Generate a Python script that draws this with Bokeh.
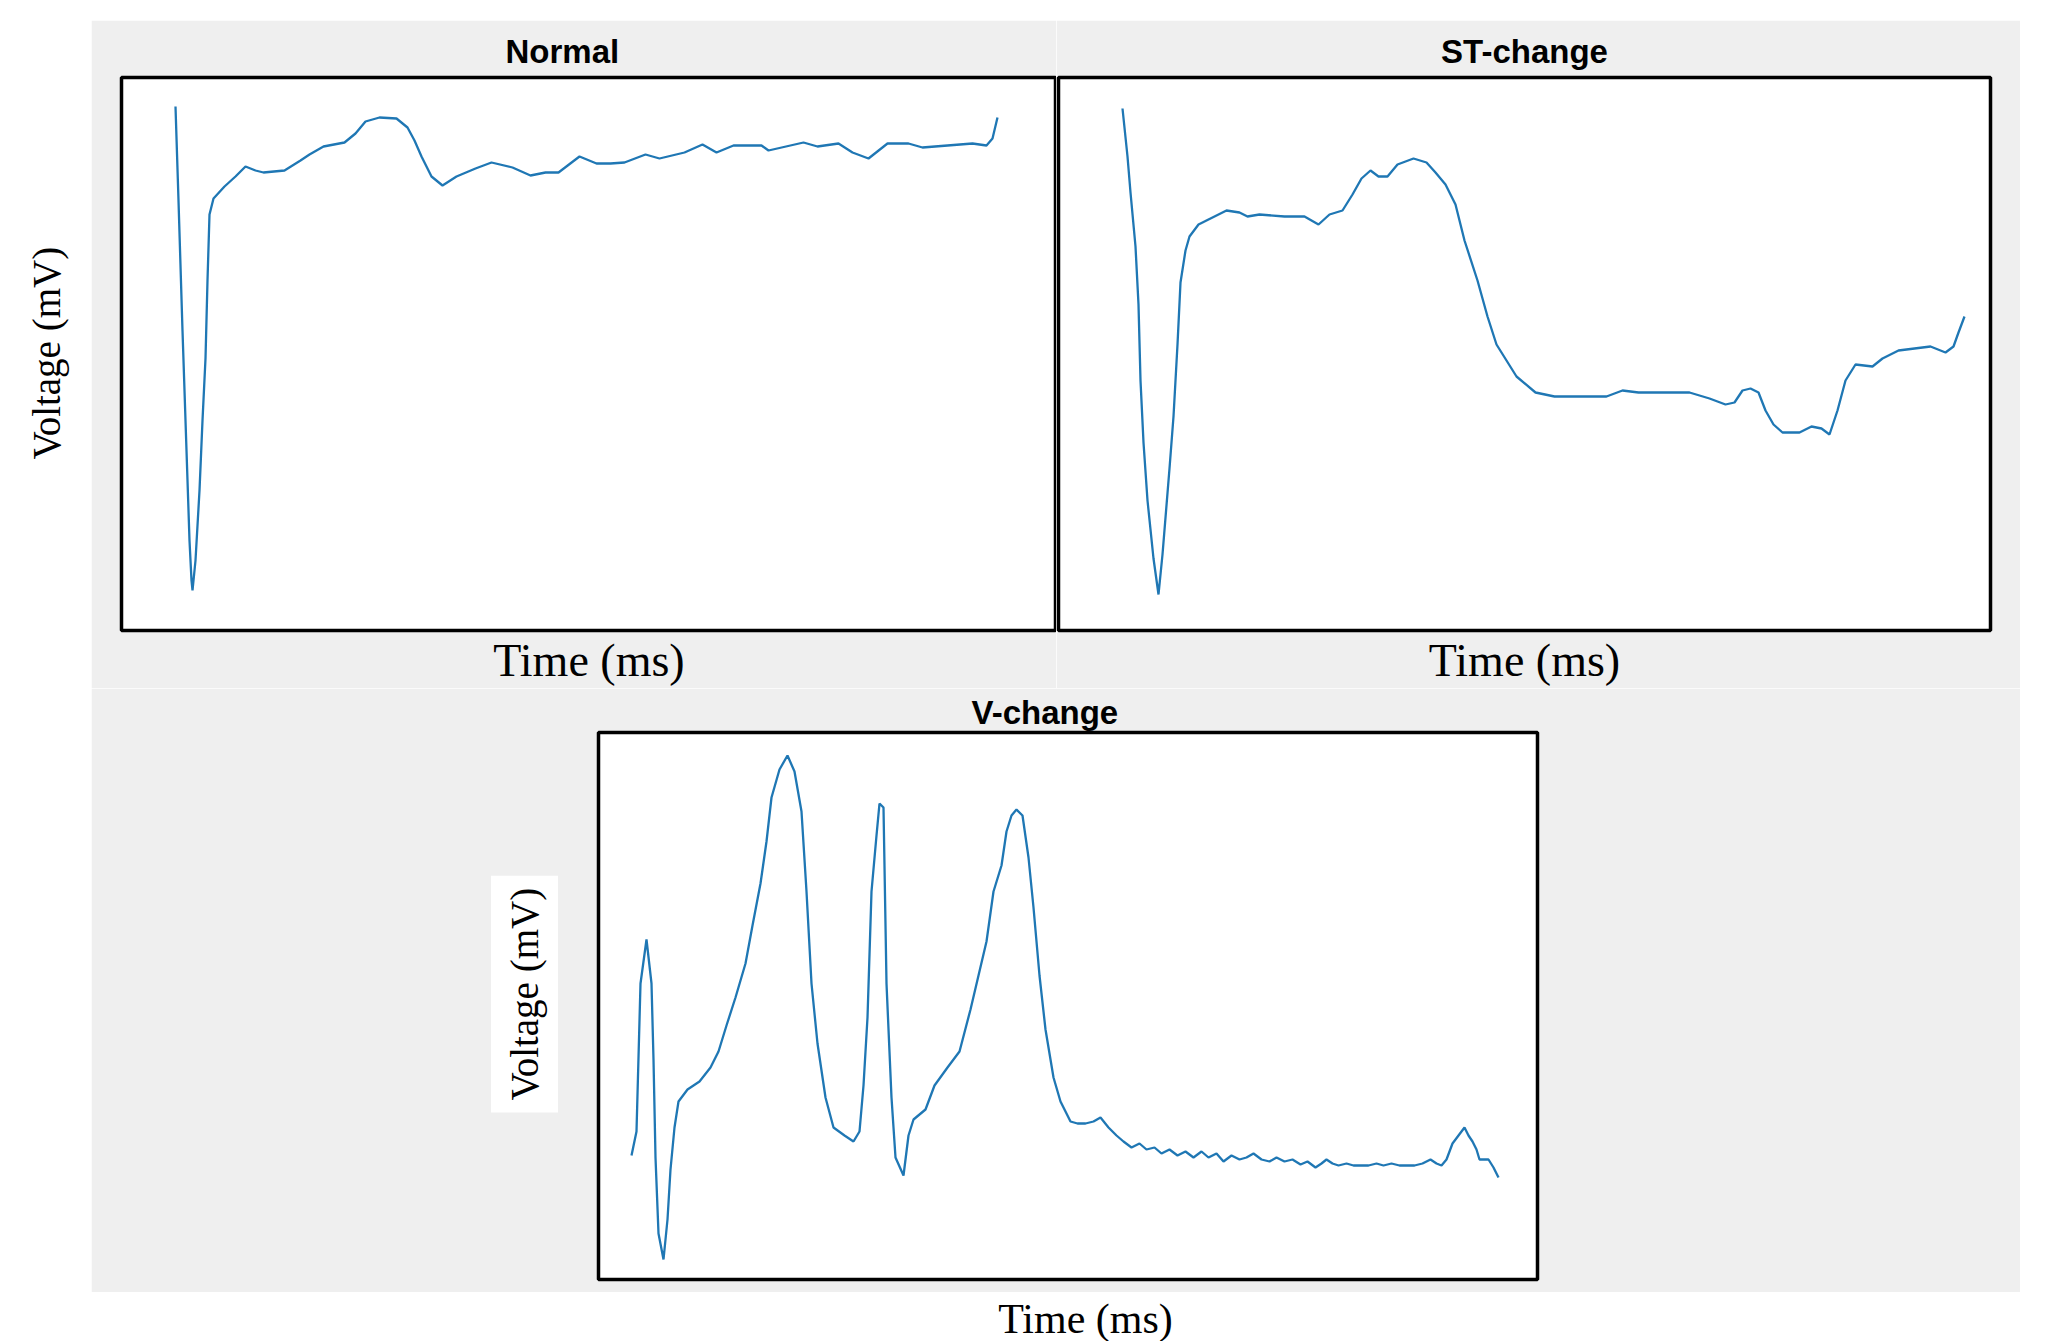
import math
from bokeh.plotting import figure
from bokeh.layouts import column, row
from bokeh.models import Spacer, FixedTicker, Title, Range1d
from bokeh.embed import file_html
from bokeh.resources import INLINE
from bokeh.core.properties import value

# ---------------- data (time in ms, voltage in mV) ----------------
normal_t = [0, 3, 7, 11, 14, 16, 17, 20, 24, 27, 30, 32, 34, 38, 49, 60, 70, 80, 88, 109,
            125, 134, 148, 169, 180, 190, 204, 221, 232, 239, 246, 256, 267, 281, 300, 316,
            337, 355, 370, 383, 404, 421, 435, 449, 470, 484, 509, 527, 541, 558, 586, 593,
            628, 642, 663, 677, 693, 712, 733, 747, 772, 797, 811, 817, 822]
normal_v = [0.32, -0.15, -0.80, -1.40, -1.85, -2.05, -2.10, -1.95, -1.60, -1.25, -0.94, -0.55,
            -0.22, -0.14, -0.08, -0.03, 0.02, 0.0, -0.01, 0.0,
            0.05, 0.08, 0.12, 0.14, 0.185, 0.245, 0.265, 0.26, 0.215, 0.15, 0.07, -0.03, -0.075,
            -0.03, 0.01, 0.04, 0.015, -0.025, -0.01, -0.01, 0.07, 0.035, 0.035, 0.04, 0.08, 0.06,
            0.09, 0.13, 0.09, 0.125, 0.125, 0.10, 0.14, 0.12, 0.135, 0.09, 0.06, 0.135, 0.135,
            0.115, 0.125, 0.135, 0.125, 0.16, 0.265]

st_t = [0, 5, 8, 13, 16, 18, 21, 25, 31, 36, 40, 47, 51, 55, 58, 63, 67, 76, 88, 104, 117,
        125, 137, 162, 182, 196, 207, 220, 230, 239, 248, 256, 265, 275, 291, 304, 313, 323,
        333, 342, 355, 365, 374, 394, 413, 432, 484, 500, 516, 542, 567, 587, 603, 612, 620,
        628, 636, 643, 651, 660, 677, 689, 699, 707, 715, 723, 733, 750, 760, 776, 792, 808,
        823, 831, 836, 842]
st_v = [0.56, 0.32, 0.14, -0.13, -0.42, -0.80, -1.11, -1.40, -1.69, -1.87, -1.67, -1.24,
        -0.98, -0.62, -0.31, -0.15, -0.08, -0.02, 0.01, 0.05, 0.04, 0.02, 0.03, 0.02, 0.02,
        -0.02, 0.03, 0.05, 0.13, 0.21, 0.25, 0.22, 0.22, 0.28, 0.31, 0.29, 0.24, 0.18, 0.08,
        -0.10, -0.30, -0.48, -0.62, -0.78, -0.86, -0.88, -0.88, -0.85, -0.86, -0.86, -0.86,
        -0.89, -0.92, -0.91, -0.85, -0.84, -0.86, -0.95, -1.02, -1.06, -1.06, -1.03, -1.04,
        -1.07, -0.95, -0.80, -0.72, -0.73, -0.69, -0.65, -0.64, -0.63, -0.66, -0.63, -0.56,
        -0.48]

v_t = [0, 5, 9, 15, 20, 22, 24, 27, 32, 36, 39, 43, 47, 56, 68, 79, 87, 95, 104, 114, 121,
       129, 135, 140, 148, 156, 163, 170, 175, 180, 186, 194, 202, 213, 222, 228, 232, 236,
       240, 245, 248, 252, 255, 260, 264, 272, 277, 282, 294, 303, 316, 328, 339, 347, 355,
       362, 370, 375, 380, 385, 391, 397, 402, 408, 414, 422, 429, 439, 446, 454, 462, 469,
       477, 485, 492, 500, 508, 515, 523, 530, 538, 546, 554, 562, 570, 577, 585, 592, 600,
       608, 615, 622, 630, 638, 645, 653, 661, 669, 676, 684, 690, 695, 701, 707, 715, 722,
       730, 737, 745, 752, 760, 768, 775, 783, 791, 799, 805, 810, 815, 821, 827, 833, 837,
       841, 845, 848, 852, 857, 862, 867]
v_v = [0.0, 0.12, 0.86, 1.08, 0.86, 0.48, -0.01, -0.39, -0.52, -0.32, -0.07, 0.14, 0.27,
       0.33, 0.37, 0.44, 0.52, 0.65, 0.79, 0.96, 1.15, 1.36, 1.57, 1.79, 1.93, 2.00, 1.92,
       1.72, 1.32, 0.86, 0.56, 0.29, 0.14, 0.10, 0.07, 0.12, 0.35, 0.69, 1.32, 1.60, 1.76,
       1.74, 0.86, 0.29, -0.01, -0.10, 0.10, 0.18, 0.23, 0.35, 0.44, 0.52, 0.73, 0.90, 1.07,
       1.32, 1.45, 1.62, 1.70, 1.73, 1.70, 1.49, 1.24, 0.90, 0.63, 0.39, 0.27, 0.17, 0.16,
       0.16, 0.17, 0.19, 0.14, 0.10, 0.07, 0.04, 0.06, 0.03, 0.04, 0.01, 0.03, 0.0, 0.02,
       -0.01, 0.02, -0.01, 0.01, -0.03, 0.0, -0.02, -0.01, 0.01, -0.02, -0.03, -0.01, -0.03,
       -0.02, -0.045, -0.03, -0.06, -0.04, -0.02, -0.04, -0.05, -0.04, -0.05, -0.05, -0.05,
       -0.04, -0.05, -0.04, -0.05, -0.05, -0.05, -0.04, -0.02, -0.04, -0.05, -0.02, 0.06,
       0.10, 0.14, 0.10, 0.07, 0.03, -0.02, -0.02, -0.02, -0.06, -0.11]

titles = ["Normal", "ST-change", "V-change"]
x_label = "Time (ms)"
y_label = "Voltage (mV)"

# ---------------- styling ----------------
GRAY = "#efefef"
BLUE = "#1f77b4"
SERIF = "Liberation Serif"
SANS = "Liberation Sans"


def panel(width, height, xr, yr, left, right, top, bottom, title, align, title_offset,
          with_xlabel=True):
    p = figure(width=width, height=height, x_range=Range1d(*xr), y_range=Range1d(*yr),
               output_backend="svg", toolbar_location=None,
               x_axis_location="below" if with_xlabel else None, y_axis_location=None,
               min_border_left=left, min_border_right=right,
               min_border_top=top, min_border_bottom=bottom)
    p.background_fill_color = "white"
    p.border_fill_color = GRAY
    p.outline_line_color = "black"
    p.outline_line_width = 3.5
    p.grid.visible = False
    p.title.text = title
    p.title.align = align
    p.title.offset = title_offset
    p.title.text_font = SANS
    p.title.text_font_style = "bold"
    p.title.text_font_size = "33px"
    p.title.text_color = "black"
    p.title.standoff = 16
    if with_xlabel:
        ax = p.xaxis[0]
        ax.ticker = FixedTicker(ticks=[])
        ax.major_tick_line_color = None
        ax.minor_tick_line_color = None
        ax.axis_line_color = None
        ax.major_tick_out = 0
        ax.minor_tick_out = 0
        ax.major_label_standoff = 0
        ax.major_label_text_font_size = "0px"
        ax.axis_label = x_label
        ax.axis_label_text_font = SERIF
        ax.axis_label_text_font_style = "normal"
        ax.axis_label_text_font_size = "46px"
        ax.axis_label_text_color = "black"
        ax.axis_label_standoff = 4
    return p


def blank_tile(width, height):
    t = figure(width=width, height=height, x_range=Range1d(0, width),
               y_range=Range1d(0, height), title=None, output_backend="svg",
               toolbar_location=None, x_axis_location=None, y_axis_location=None,
               min_border=0)
    t.outline_line_color = None
    t.background_fill_color = "white"
    t.border_fill_color = "white"
    t.grid.visible = False
    return t


# Row A: Normal and ST-change (page y 20..688)
HA = 668
p_norm = panel(965, HA, (-54, 881), (-2.30, 0.465), 30, 0, 57, 58, titles[0], "left", 384)
p_norm.line(normal_t, normal_v, line_color=BLUE, line_width=2.3)

p_st = panel(964, HA, (-64, 868), (-2.05, 0.715), 2, 30, 57, 58, titles[1], "center", 0)
p_st.line(st_t, st_v, line_color=BLUE, line_width=2.3)

# white strip on the left carrying the shared y label
p_lab = blank_tile(91, HA)
p_lab.text(x=[46], y=[HA - 333], text=[y_label], angle=math.pi / 2,
           text_align="center", text_baseline="middle", text_font=value(SERIF),
           text_font_size="39px", text_color="black")

row_a = row(p_lab, p_norm, p_st, Spacer(width=28, height=HA))

# Row B: V-change (page y 688..1292)
HB = 604
p_v = panel(1929, HB, (-33, 906), (-0.62, 2.115), 507, 483, 44, 13, titles[2], "left", 373,
            with_xlabel=False)
p_v.title.standoff = 4
p_v.line(v_t, v_v, line_color=BLUE, line_width=2.3)
ylab = Title(text=y_label, align="left", offset=167, text_font=SERIF,
             text_font_style="normal", text_font_size="39px", text_color="black",
             background_fill_color="white", standoff=81, padding=12)
p_v.add_layout(ylab, "left")

row_b = row(Spacer(width=91, height=HB), p_v, Spacer(width=28, height=HB))

# bottom white strip with the V-change x label (page y 1292..1341)
HC = 49
p_bot = blank_tile(2048, HC)
p_bot.text(x=[1085], y=[HC - 26], text=[x_label], text_align="center",
           text_baseline="middle", text_font=value(SERIF), text_font_size="42px",
           text_color="black")

layout = column(Spacer(width=2048, height=20), row_a, row_b, p_bot)

open("out.html", "w").write(file_html(layout, INLINE))
